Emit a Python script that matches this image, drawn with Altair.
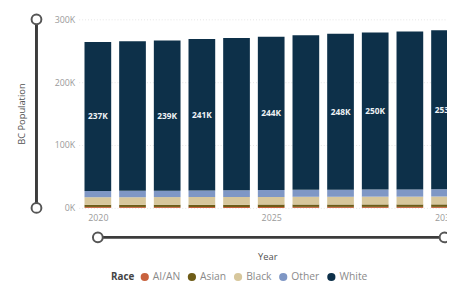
import altair as alt
import pandas as pd

years = [2020, 2021, 2022, 2023, 2024, 2025, 2026, 2027, 2028, 2029, 2030]
races = ["AI/AN", "Asian", "Black", "Other", "White"]
colors = ["#c8623e", "#6e5c17", "#d7c79c", "#7f97c5", "#0d3049"]

ai_an = [1500, 1500, 1500, 1500, 1500, 1600, 1600, 1600, 1600, 1600, 1600]
asian = [3500, 3500, 3600, 3600, 3700, 3700, 3800, 3800, 3900, 3900, 4000]
black = [12000, 12000, 12100, 12100, 12200, 12200, 12300, 12300, 12400, 12400, 12500]
other = [10000, 10100, 10200, 10400, 10600, 10800, 11000, 11200, 11300, 11400, 11500]
white = [237000, 238000, 239000, 241000, 242500, 244000, 246000, 248000, 250000, 251500, 253000]

label_years = [2020, 2022, 2023, 2025, 2027, 2028, 2030]
y_ticks = [0, 100000, 200000, 300000]
x_ticks = [2020, 2025, 2030]

series = {"AI/AN": ai_an, "Asian": asian, "Black": black, "Other": other, "White": white}
rows = []
for i, r in enumerate(races):
    for y, v in zip(years, series[r]):
        rows.append({"year": y, "race": r, "value": v, "order": i})
df = pd.DataFrame(rows)

FONT = "Open Sans"
xscale = alt.Scale(domain=[years[0] - 0.552, years[-1] + 0.071], nice=False, zero=False)
yscale = alt.Scale(domain=[y_ticks[0], y_ticks[-1]], nice=False)

x_axis = alt.Axis(values=x_ticks, format="d", title="Year", grid=False,
                  domain=False, ticks=False, labelPadding=6,
                  titleX=192, titleY=50, titleBaseline="middle")
y_axis = alt.Axis(values=y_ticks, labelExpr="datum.value / 1000 + 'K'",
                  title="BC Population", domain=False, ticks=False,
                  labelPadding=4, grid=True, gridColor="#e4e4e4",
                  gridDash=[1, 2], titleAngle=270, titleX=-58, titleY=96,
                  titleAlign="center", titleBaseline="middle")

stacked = alt.Chart(df).transform_stack(
    stack="value", groupby=["year"], as_=["v0", "v1"],
    sort=[alt.SortField("order", order="ascending")]
)

bars = stacked.transform_calculate(
    x0="datum.year - 0.385", x1="datum.year + 0.385"
).mark_bar().encode(
    x=alt.X("x0:Q", scale=xscale, axis=x_axis),
    x2="x1:Q",
    y=alt.Y("v0:Q", scale=yscale, axis=y_axis),
    y2="v1:Q",
    color=alt.Color("race:N", scale=alt.Scale(domain=races, range=colors),
                    legend=alt.Legend(title="Race", orient="none", direction="horizontal",
                                      legendX=33, legendY=257, titleOrient="left",
                                      symbolType="circle", symbolSize=70,
                                      symbolStrokeWidth=0, labelOffset=3,
                                      columnPadding=6, titlePadding=5)),
    order=alt.Order("order:Q"),
)

labels = stacked.transform_filter(
    alt.FieldEqualPredicate(field="race", equal="White")
).transform_filter(
    alt.FieldOneOfPredicate(field="year", oneOf=label_years)
).transform_calculate(
    mid="(datum.v0 + datum.v1) / 2",
    txt="format(datum.value / 1000, '.0f') + 'K'"
).mark_text(color="#eef2f5", fontSize=8.5, fontWeight="bold", font=FONT).encode(
    x=alt.X("year:Q", scale=xscale, axis=x_axis),
    y=alt.Y("mid:Q", scale=yscale, axis=y_axis),
    text="txt:N",
)

hs = pd.DataFrame({"year": [years[0]], "year2": [years[-1]]})
hp = pd.DataFrame({"year": [years[0], years[-1]]})
vs = pd.DataFrame({"v0": [y_ticks[0]], "v1": [y_ticks[-1]]})
vp = pd.DataFrame({"v0": [y_ticks[0], y_ticks[-1]]})

h_rule = alt.Chart(hs).mark_rule(color="#3c3c3c", strokeWidth=3).encode(
    x=alt.X("year:Q", scale=xscale, axis=x_axis), x2="year2:Q", y=alt.value(222))
h_pts = alt.Chart(hp).mark_point(shape="circle", filled=True, fill="white",
                                 stroke="#555555", strokeWidth=2, size=100, opacity=1).encode(
    x=alt.X("year:Q", scale=xscale, axis=x_axis), y=alt.value(222))
v_rule = alt.Chart(vs).mark_rule(color="#3c3c3c", strokeWidth=3).encode(
    y=alt.Y("v0:Q", scale=yscale, axis=y_axis), y2="v1:Q", x=alt.value(-43))
v_pts = alt.Chart(vp).mark_point(shape="circle", filled=True, fill="white",
                                 stroke="#555555", strokeWidth=2, size=100, opacity=1).encode(
    y=alt.Y("v0:Q", scale=yscale, axis=y_axis), x=alt.value(-43))

chart = alt.layer(bars, labels, h_rule, h_pts, v_rule, v_pts).properties(
    width=375, height=192,
    autosize=alt.AutoSizeParams(type="none"),
    padding={"left": 72, "top": 9, "right": 0, "bottom": 78},
    background="white",
).configure_view(stroke=None).configure_axis(
    labelFont=FONT, titleFont=FONT, labelColor="#9a9a9a", labelFontSize=9,
    titleColor="#505050", titleFontSize=9.5, titleFontWeight="normal",
).configure_legend(
    labelFont=FONT, titleFont=FONT, labelColor="#8a8a8a", labelFontSize=10.5,
    titleColor="#444444", titleFontSize=10, titleFontWeight="bold",
)

chart.save("out.html", embed_options={"renderer": "svg", "actions": False})
